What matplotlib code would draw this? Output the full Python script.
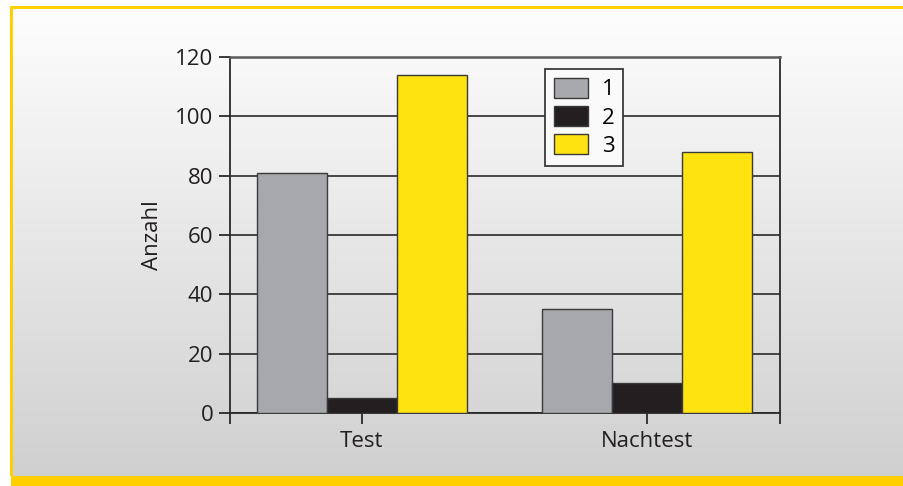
import matplotlib
matplotlib.use("Agg")
import matplotlib.pyplot as plt
import numpy as np
from matplotlib.patches import Rectangle

plt.rcParams['font.family'] = ['Open Sans', 'DejaVu Sans']

categories = ["Test", "Nachtest"]
series_names = ["1", "2", "3"]
values_1 = [81, 35]
values_2 = [5, 10]
values_3 = [114, 88]
colors = ["#a7a8ab", "#231f20", "#ffe311"]
y_ticks = [0, 20, 40, 60, 80, 100, 120]
y_label = "Anzahl"

W, H = 904, 486
fig = plt.figure(figsize=(W / 100, H / 100), dpi=100)

# background gradient + yellow frame
bg = fig.add_axes([0, 0, 1, 1], zorder=-10)
bg.set_xlim(0, W)
bg.set_ylim(H, 0)
bg.axis('off')
grad = np.linspace(0.995, 0.815, 256).reshape(-1, 1)
bg.imshow(np.dstack([grad, grad, grad]), extent=[12, W, 476, 8], aspect='auto', interpolation='bilinear')
yellow = "#ffcf00"
bg.add_patch(Rectangle((11, 476), W - 11, 10, color=yellow, lw=0))
bg.add_patch(Rectangle((10, 6), 3.5, 470, color=yellow, lw=0))
bg.add_patch(Rectangle((10, 6), W - 10, 3, color=yellow, lw=0))
bg.add_patch(Rectangle((W - 1, 6), 1, 470, color="#fbeeb5", lw=0))

ax = fig.add_axes([230 / W, (H - 413) / H, 550 / W, 356 / H])
ax.patch.set_visible(False)

x = np.arange(len(categories))
bw = 0.2456
series = [values_1, values_2, values_3]
for i, (vals, c, name) in enumerate(zip(series, colors, series_names)):
    ax.bar(x + (i - 1) * bw, vals, bw, color=c, edgecolor="#3a3a3a", linewidth=1.0, label=name, zorder=3)

ax.set_ylim(0, 120)
ax.set_xlim(-0.463, 1.467)
ax.set_yticks(y_ticks)
ax.set_yticklabels([str(v) for v in y_ticks])
ax.set_xticks([-0.463, 0, 1, 1.467])
ax.set_xticklabels(["", categories[0], categories[1], ""])
ax.yaxis.grid(True, color="#2a2a2a", linewidth=1.2, zorder=1)
ax.set_axisbelow(True)
for s in ['left', 'bottom', 'right']:
    ax.spines[s].set_color("#2a2a2a")
    ax.spines[s].set_linewidth(1.3)
ax.spines['top'].set_color("#5a5a5a")
ax.spines['top'].set_linewidth(1.8)
ax.tick_params(axis='both', direction='out', length=8, width=1.3, color="#2a2a2a",
               labelsize=16, labelcolor="#231f20", pad=4)
ax.tick_params(axis='x', pad=5)
ax.set_ylabel(y_label, fontsize=16, color="#231f20", labelpad=9)

leg = ax.legend(loc='upper left', bbox_to_anchor=((545 - 230) / 550, (413 - 69) / 356),
                fontsize=16, frameon=True, fancybox=False, handlelength=1.55, handleheight=1.0,
                handletextpad=0.6, labelspacing=0.25, borderpad=0.4, borderaxespad=0)
leg.get_frame().set_edgecolor("#3a3a3a")
leg.get_frame().set_facecolor("#fafafa")
leg.get_frame().set_linewidth(1.3)
leg.get_frame().set_alpha(1)

fig.savefig("out.png", dpi=100)
